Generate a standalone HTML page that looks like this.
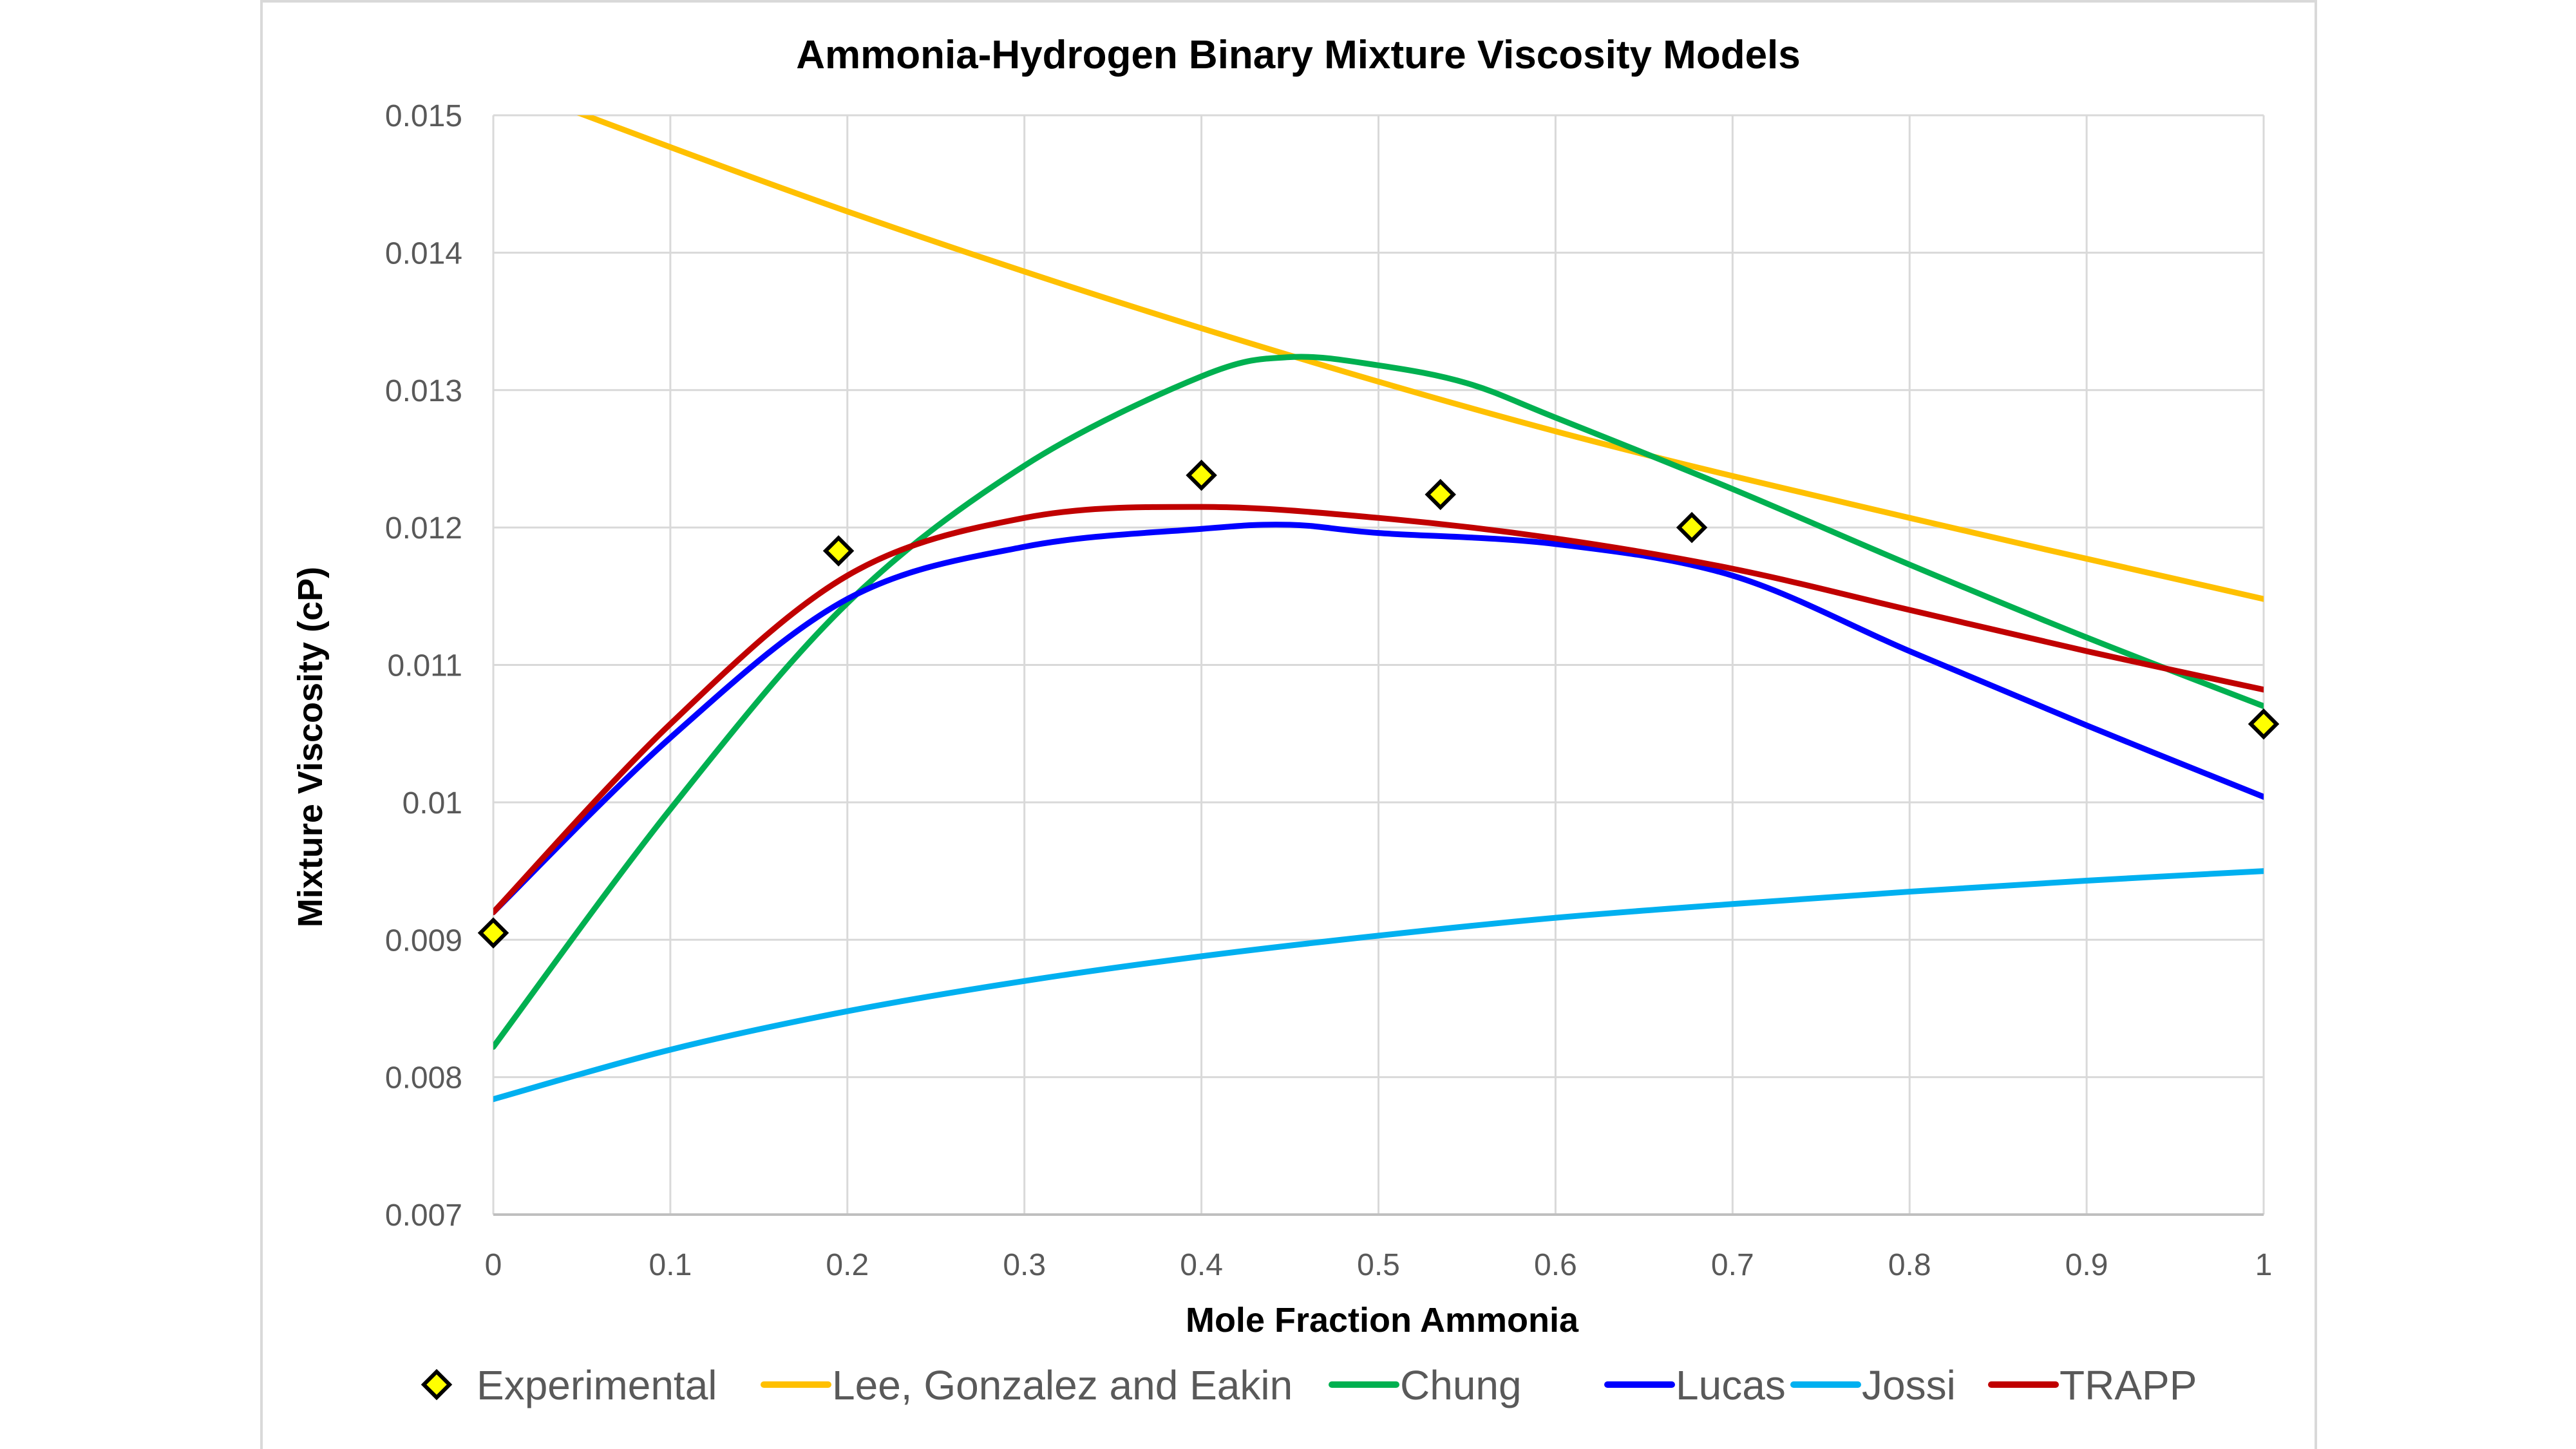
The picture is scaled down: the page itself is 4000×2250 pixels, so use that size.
<!DOCTYPE html>
<html><head><meta charset="utf-8"><style>
html,body{margin:0;padding:0;background:#fff;width:4000px;height:2250px;overflow:hidden}
svg{display:block;font-family:"Liberation Sans",sans-serif}
</style></head><body>
<svg id="s" width="4000" height="2250" xmlns="http://www.w3.org/2000/svg">
<rect x="0" y="0" width="4000" height="2250" fill="#fff"/>
<rect x="406" y="2" width="3190" height="2250" fill="#fff" stroke="#d9d9d9" stroke-width="4"/>
<g id="grid"></g>
<text x="2016" y="106" text-anchor="middle" font-size="62" font-weight="bold" fill="#000">Ammonia-Hydrogen Binary Mixture Viscosity Models</text>
<g id="ylab" font-size="48" fill="#595959" text-anchor="end"></g>
<g id="xlab" font-size="48" fill="#595959" text-anchor="middle"></g>
<text x="2146" y="2068" text-anchor="middle" font-size="54" font-weight="bold" fill="#000">Mole Fraction Ammonia</text>
<text transform="translate(500,1160) rotate(-90)" text-anchor="middle" font-size="54" font-weight="bold" fill="#000">Mixture Viscosity (cP)</text>
<defs><clipPath id="c"><rect x="766" y="179" width="2749" height="1707"/></clipPath></defs>
<g id="series" clip-path="url(#c)"></g>
<g id="marks"></g>
<g id="legend" font-size="64" fill="#595959"></g>
</svg>
<script>
var L=766,R=3515,T=179,B=1886;
function X(x){return L+(R-L)*x}
function Y(v){return T+(0.015-v)*(B-T)/0.008}
var ns="http://www.w3.org/2000/svg";
function el(p,t,a,txt){var e=document.createElementNS(ns,t);for(var k in a)e.setAttribute(k,a[k]);if(txt!=null)e.textContent=txt;document.getElementById(p).appendChild(e);return e}
for(var i=0;i<=10;i++){el('grid','line',{x1:X(i/10),x2:X(i/10),y1:T,y2:B,stroke:'#d9d9d9','stroke-width':3});
 el('xlab','text',{x:X(i/10),y:1980},i==0?'0':i==10?'1':'0.'+i);}
for(var j=0;j<=8;j++){var v=0.007+j*0.001;el('grid','line',{x1:L,x2:R,y1:Y(v),y2:Y(v),stroke:j==0?'#bfbfbf':'#d9d9d9','stroke-width':j==0?4:3});
 el('ylab','text',{x:718,y:Y(v)+17},v.toFixed(3).replace(/^0\.010$/,'0.01'));}
function path(pts){var p=pts.map(function(a){return[X(a[0]),Y(a[1])]});var d='M'+p[0][0]+','+p[0][1];
 for(var i=0;i<p.length-1;i++){var p0=p[i-1]||p[i],p1=p[i],p2=p[i+1],p3=p[i+2]||p2;
  d+=' C'+(p1[0]+(p2[0]-p0[0])/6)+','+(p1[1]+(p2[1]-p0[1])/6)+' '+(p2[0]-(p3[0]-p1[0])/6)+','+(p2[1]-(p3[1]-p1[1])/6)+' '+p2[0]+','+p2[1];}
 return d;}
var S=[
['#ffc000',[[0,0.01525],[0.2,0.01430],[0.4,0.01345],[0.6,0.01270],[0.8,0.01207],[1,0.01148]]],
['#00b050',[[0,0.00822],[0.1,0.00995],[0.2,0.01145],[0.3,0.01245],[0.4,0.01310],[0.45,0.01324],[0.5,0.01318],[0.55,0.01305],[0.6,0.01280],[0.7,0.01228],[0.8,0.01173],[0.9,0.01120],[1,0.01070]]],
['#0000ff',[[0,0.00920],[0.1,0.01047],[0.2,0.01148],[0.3,0.01186],[0.4,0.01199],[0.45,0.01202],[0.5,0.01196],[0.6,0.01188],[0.7,0.01165],[0.8,0.01110],[0.9,0.01056],[1,0.01004]]],
['#00b0f0',[[0,0.00784],[0.1,0.00820],[0.2,0.00848],[0.3,0.00870],[0.4,0.00888],[0.5,0.00903],[0.6,0.00916],[0.7,0.00926],[0.8,0.00935],[0.9,0.00943],[1,0.00950]]],
['#c00000',[[0,0.00920],[0.1,0.01057],[0.2,0.01165],[0.3,0.01207],[0.4,0.01215],[0.5,0.01207],[0.6,0.01192],[0.7,0.01170],[0.8,0.01140],[0.9,0.01110],[1,0.01082]]]];
S.forEach(function(s){el('series','path',{d:path(s[1]),fill:'none',stroke:s[0],'stroke-width':9,'stroke-linecap':'round','stroke-linejoin':'round'})});
function dia(x,y){el('marks','path',{d:'M'+x+','+(y-20)+' L'+(x+20)+','+y+' L'+x+','+(y+20)+' L'+(x-20)+','+y+' Z',fill:'#ffff00',stroke:'#000','stroke-width':6});}
[[0,0.00905],[0.195,0.01183],[0.40,0.01238],[0.535,0.01224],[0.677,0.01200],[1,0.01057]].forEach(function(a){dia(X(a[0]),Y(a[1]))});
var ly=2150;
el('legend','path',{d:'M678,'+(ly-20)+' L698,'+ly+' L678,'+(ly+20)+' L658,'+ly+' Z',fill:'#ffff00',stroke:'#000','stroke-width':6});
el('legend','text',{x:740,y:ly+23},'Experimental');
var items=[['#ffc000',1186,'Lee, Gonzalez and Eakin'],['#00b050',2068,'Chung'],['#0000ff',2496,'Lucas'],['#00b0f0',2785,'Jossi'],['#c00000',3092,'TRAPP']];
items.forEach(function(it){el('legend','line',{x1:it[1],x2:it[1]+100,y1:ly,y2:ly,stroke:it[0],'stroke-width':10,'stroke-linecap':'round'});
 el('legend','text',{x:it[1]+106,y:ly+23},it[2]);});
</script>
</body></html>
